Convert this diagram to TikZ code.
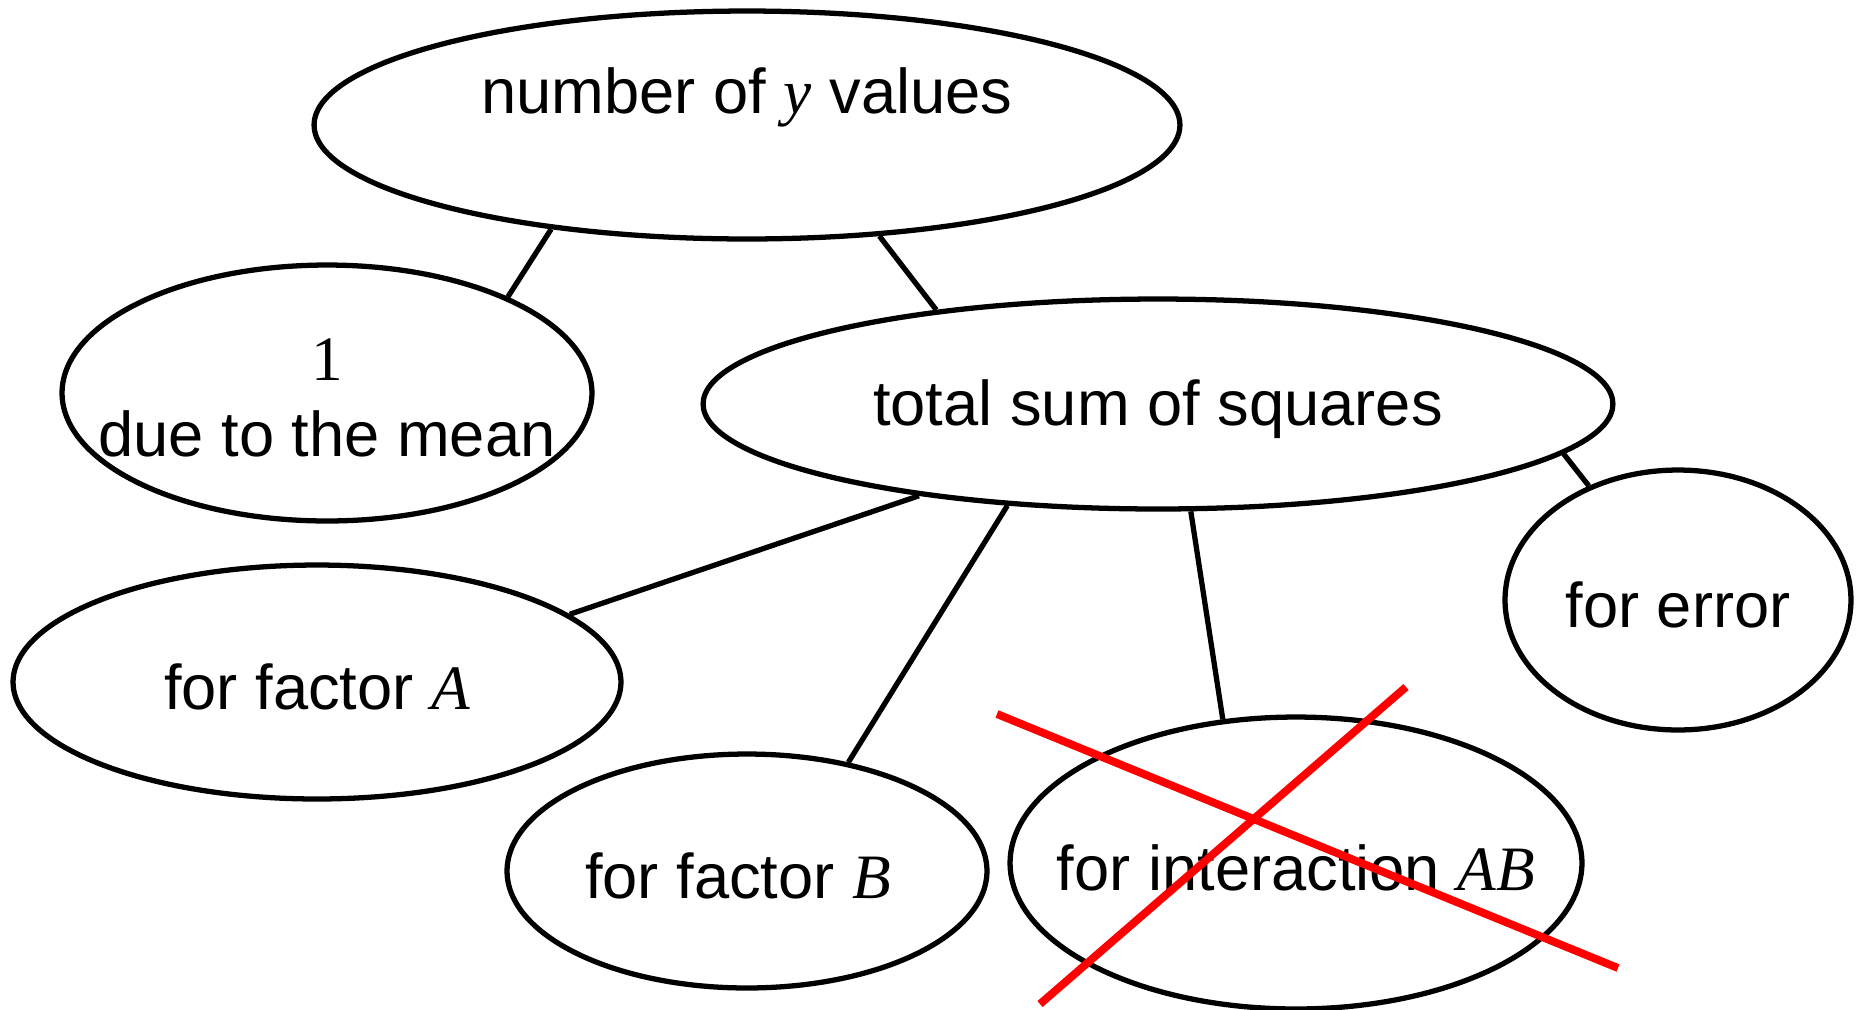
\documentclass[tikz,border=0pt]{standalone}
\usepackage{fontspec}
\setmainfont{Liberation Sans}
\newfontfamily\tms{Liberation Serif}
\usepackage{tikz}
\usetikzlibrary{shapes.geometric}
\usepackage{xcolor}
\definecolor{ink}{HTML}{000000}
\definecolor{strike}{HTML}{FF0000}
\newcommand{\vv}[1]{{\tms\itshape #1}}

\begin{document}
\begin{tikzpicture}[x=0.02cm, y=-0.02cm,
    oval/.style={ellipse, draw=ink, line width=3pt, inner sep=0pt},
    txt/.style={font=\fontsize{36}{43}\selectfont, align=center, text=ink, yshift=-0.1cm},
    link/.style={draw=ink, line width=3pt},
    cross/.style={draw=strike, line width=4.5pt}]
        \useasboundingbox (0,0) rectangle (1856,1009);
        \node[oval, minimum width=17.32cm, minimum height=4.56cm] (top) at (747,125) {};
        \node[oval, minimum width=10.6cm, minimum height=5.12cm] (mean) at (327,393) {};
        \node[oval, minimum width=18.2cm, minimum height=4.2cm] (total) at (1158,404) {};
        \node[oval, minimum width=6.92cm, minimum height=5.2cm] (error) at (1678,600) {};
        \node[oval, minimum width=12.16cm, minimum height=4.68cm] (facA) at (317,682) {};
        \node[oval, minimum width=9.6cm, minimum height=4.68cm] (facB) at (747,871) {};
        \node[oval, minimum width=11.44cm, minimum height=5.84cm] (inter) at (1296,863) {};
        % texts
        \node[txt, yshift=0.66cm] (topT) at (top) {number of \vv{y} values};
        \node[txt] (meanT) at (mean) {{\tms 1}\\due to the mean};
        \node[txt] (totalT) at (total) {total sum of squares};
        \node[txt] (errorT) at (error) {for error};
        \node[txt] (facAT) at (facA) {for factor \vv{A}};
        \node[txt, xshift=-0.18cm] (facBT) at (facB) {for factor \vv{B}};
        \node[txt] (interT) at (inter) {for interaction \vv{AB}};
        % links
        \draw[link] (top.208) -- (mean.28.9);
        \draw[link] (top.320.2) -- (total.157.5);
        \draw[link] (total.201.8) -- (facA.15.5);
        \draw[link] (total.214) -- (facB.47);
        \draw[link] (total.287.8) -- (inter.117);
        \draw[link] (total.353.2) -- (error.128.5);
        % crossed out
        \coordinate (c1) at (997,714);
        \coordinate (c2) at (1618,968);
        \coordinate (c3) at (1406,687);
        \coordinate (c4) at (1040,1004);
        \draw[cross] (c1) -- (c2);
        \draw[cross] (c3) -- (c4);
      \end{tikzpicture}
\end{document}
